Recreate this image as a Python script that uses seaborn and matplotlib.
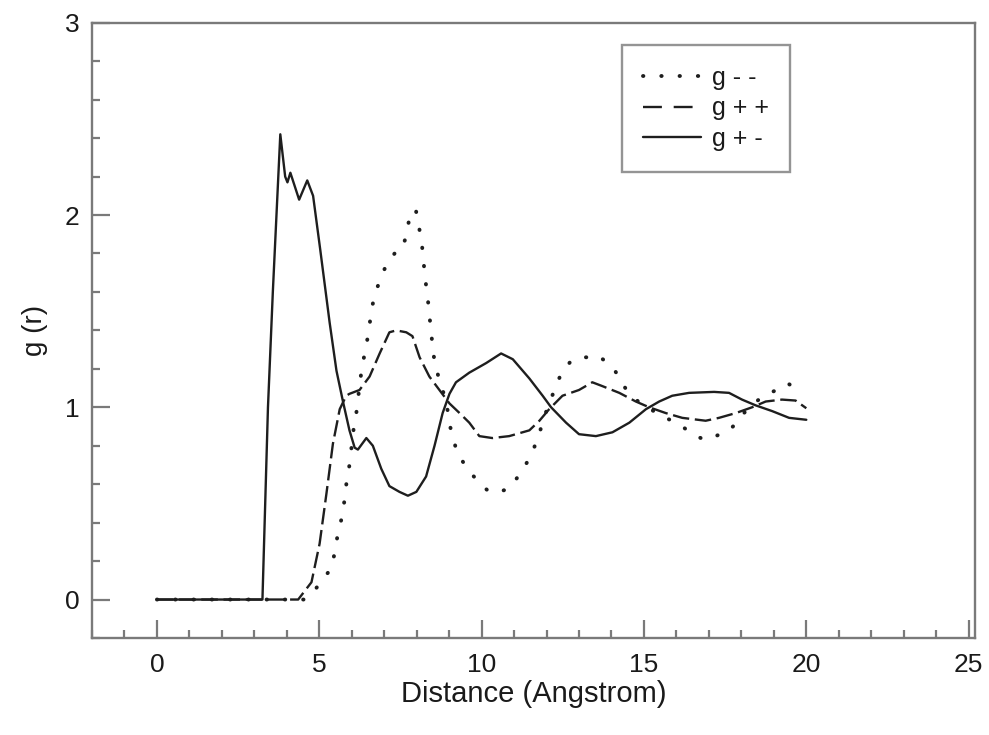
import matplotlib
matplotlib.use("Agg")
import matplotlib.pyplot as plt
from matplotlib.ticker import MultipleLocator
from matplotlib.lines import Line2D
import seaborn as sns
import pandas as pd

# g+- (solid)
r_pm = [0, 3.25, 3.42, 3.57, 3.80, 3.95, 4.02, 4.11, 4.38, 4.63, 4.81, 5.03, 5.32, 5.53,
        5.73, 5.93, 6.09, 6.19, 6.45, 6.65, 6.91, 7.16, 7.47, 7.73, 7.99, 8.29, 8.55,
        8.80, 9.01, 9.21, 9.62, 10.14, 10.60, 10.96, 11.47, 11.88, 12.14, 12.60, 13.0,
        13.52, 14.03, 14.55, 15.06, 15.47, 15.87, 16.39, 17.16, 17.62, 18.02, 18.44,
        18.95, 19.47, 20.0]
g_pm = [0, 0, 1.0, 1.6, 2.42, 2.20, 2.17, 2.22, 2.08, 2.18, 2.10, 1.82, 1.44, 1.19,
        1.03, 0.88, 0.79, 0.78, 0.84, 0.80, 0.68, 0.59, 0.56, 0.54, 0.56, 0.64, 0.80,
        0.97, 1.07, 1.13, 1.18, 1.23, 1.28, 1.25, 1.15, 1.06, 1.00, 0.92, 0.86,
        0.85, 0.87, 0.92, 0.99, 1.03, 1.06, 1.075, 1.08, 1.075, 1.04, 1.01,
        0.98, 0.945, 0.935]

# g++ (dashed)
r_pp = [0, 4.35, 4.76, 5.01, 5.22, 5.42, 5.63, 5.83, 5.93, 6.24, 6.55, 6.86, 7.16, 7.37,
        7.68, 7.87, 8.09, 8.39, 8.70, 9.01, 9.32, 9.62, 9.93, 10.33, 10.85, 11.47, 11.78,
        12.08, 12.49, 13.0, 13.41, 13.72, 14.24, 14.75, 15.16, 15.67, 16.18, 16.9, 17.31,
        17.83, 18.33, 18.75, 19.25, 19.67, 20.0]
g_pp = [0, 0, 0.09, 0.29, 0.55, 0.81, 0.99, 1.06, 1.07, 1.09, 1.16, 1.28, 1.39, 1.40,
        1.39, 1.37, 1.26, 1.16, 1.09, 1.02, 0.97, 0.92, 0.85, 0.84, 0.85, 0.88, 0.93,
        0.99, 1.06, 1.09, 1.13, 1.11, 1.075, 1.03, 1.00, 0.97, 0.945, 0.93, 0.945,
        0.97, 1.00, 1.03, 1.04, 1.035, 0.995]

# g-- (dotted)
r_mm = [0, 4.55, 4.91, 5.17, 5.37, 5.47, 5.57, 5.70, 5.78, 5.84, 5.93, 6.06, 6.15, 6.26,
        6.34, 6.45, 6.55, 6.62, 6.76, 6.91, 7.09, 7.32, 7.55, 7.69, 7.78, 7.97, 8.07,
        8.16, 8.21, 8.27, 8.34, 8.39, 8.45, 8.50, 8.60, 8.76, 8.91, 9.03, 9.25, 9.49,
        9.71, 9.96, 10.24, 10.52, 10.82, 11.08, 11.32, 11.55, 11.75, 12.03, 12.27, 12.46,
        12.75, 12.99, 13.26, 13.56, 13.90, 14.11, 14.34, 14.6, 14.9, 15.2, 15.6, 15.93,
        16.26, 16.6, 16.9, 17.28, 17.56, 17.83, 18.13, 18.67, 19.09, 19.42, 19.72, 20.0]
g_mm = [0, 0, 0.06, 0.12, 0.16, 0.24, 0.34, 0.43, 0.52, 0.61, 0.70, 0.89, 0.98, 1.14,
        1.23, 1.32, 1.43, 1.52, 1.61, 1.68, 1.75, 1.80, 1.82, 1.90, 1.99, 2.03, 1.94,
        1.85, 1.76, 1.66, 1.57, 1.48, 1.39, 1.29, 1.20, 1.11, 1.03, 0.90, 0.76, 0.70,
        0.65, 0.60, 0.56, 0.56, 0.575, 0.63, 0.69, 0.76, 0.85, 1.00, 1.10, 1.18,
        1.24, 1.26, 1.26, 1.27, 1.23, 1.19, 1.12, 1.06, 1.02, 0.99, 0.95, 0.925,
        0.89, 0.85, 0.83, 0.855, 0.87, 0.915, 0.98, 1.06, 1.09, 1.125, 1.095, 1.095]

labels = ["g - -", "g + +", "g + -"]

sns.set_style("white")
plt.rcParams["font.family"] = ["Liberation Sans", "DejaVu Sans"]

line_col = "#1e1e1e"
axis_col = "#7a7a7a"
text_col = "#1a1a1a"
dot_style = (0, (0.1, 4.6))

fig = plt.figure(figsize=(9.89, 7.35), dpi=100)
ax = fig.add_axes([0.093, 0.132, 0.893, 0.837])

df_mm = pd.DataFrame({"r": r_mm, "g": g_mm})
df_pp = pd.DataFrame({"r": r_pp, "g": g_pp})
df_pm = pd.DataFrame({"r": r_pm, "g": g_pm})

sns.lineplot(data=df_mm, x="r", y="g", ax=ax, color=line_col, lw=2.8,
             linestyle=dot_style, dash_capstyle="round",
             estimator=None, sort=False)
sns.lineplot(data=df_pp, x="r", y="g", ax=ax, color=line_col, lw=1.7,
             linestyle=(0, (7, 2.4)), estimator=None, sort=False)
sns.lineplot(data=df_pm, x="r", y="g", ax=ax, color=line_col, lw=1.7,
             linestyle="-", estimator=None, sort=False)

ax.set_xlim(-2, 25.2)
ax.set_ylim(-0.2, 3)
ax.xaxis.set_major_locator(MultipleLocator(5))
ax.xaxis.set_minor_locator(MultipleLocator(1))
ax.yaxis.set_major_locator(MultipleLocator(1))
ax.yaxis.set_minor_locator(MultipleLocator(0.2))
ax.tick_params(which="major", direction="in", length=13, width=1.6, color=axis_col,
               labelsize=19, labelcolor=text_col, bottom=True, left=True,
               top=False, right=False)
ax.tick_params(axis="x", which="major", pad=11)
ax.tick_params(axis="y", which="major", pad=9)
ax.tick_params(which="minor", direction="in", length=6, width=1.6, color=axis_col,
               bottom=True, left=True, top=False, right=False)

for sp in ax.spines.values():
    sp.set_color(axis_col)
    sp.set_linewidth(1.7)

ax.set_xlabel("Distance (Angstrom)", fontsize=21, color=text_col, labelpad=2)
ax.set_ylabel("g (r)", fontsize=20, color=text_col, labelpad=12)

handles = [
    Line2D([], [], color=line_col, lw=2.8, linestyle=dot_style, dash_capstyle="round"),
    Line2D([], [], color=line_col, lw=1.7, linestyle=(0, (8, 5))),
    Line2D([], [], color=line_col, lw=1.7, linestyle="-"),
]
leg = ax.legend(handles, labels, loc="upper left", bbox_to_anchor=(0.600, 0.964),
                borderaxespad=0, fancybox=False, frameon=True, fontsize=18,
                handlelength=2.3, handletextpad=0.45, labelspacing=0.25,
                borderpad=0.85, labelcolor=text_col)
leg.get_frame().set_edgecolor(axis_col)
leg.get_frame().set_linewidth(1.7)

fig.savefig("out.png", dpi=100)
